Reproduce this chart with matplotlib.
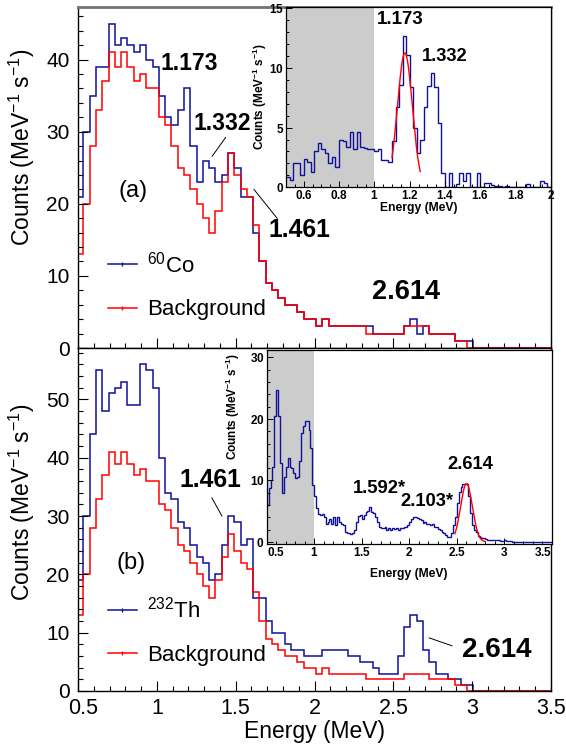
import numpy as np
import matplotlib
matplotlib.use("Agg")
import matplotlib.pyplot as plt
import matplotlib.transforms as mtransforms
from matplotlib.lines import Line2D
from matplotlib.ticker import MultipleLocator, FuncFormatter

plt.rcParams['font.family'] = ['Liberation Sans', 'DejaVu Sans']
plt.rcParams['mathtext.fontset'] = 'custom'
plt.rcParams['mathtext.rm'] = 'Liberation Sans'
plt.rcParams['mathtext.bf'] = 'Liberation Sans:bold'
plt.rcParams['mathtext.default'] = 'regular'

# --- main spectra, ~0.04 MeV bins ---
bin_start = 0.494
bin_width = 0.0399
background = [13, 20, 28, 33, 37, 41, 39, 41, 39, 37, 38, 36, 36, 32, 31, 28, 25, 24, 22, 20,
              18, 16, 19, 23, 27, 24, 22, 21, 17, 12, 9, 8, 7, 6, 6, 5, 4, 4, 3, 4,
              3, 3, 3, 3, 3, 3, 2, 2, 2, 2, 2, 2, 3, 3, 3, 3, 2, 2, 2, 2,
              1, 1, 0, 0, 0, 0, 0, 0, 0, 0, 0, 0, 0, 0, 0, 0]
co60 = [21, 30, 35, 39, 39, 45, 42, 43, 42, 41, 42, 40, 39, 35, 32, 31, 33, 36, 28, 23,
        26, 25, 23, 24, 27, 25, 21, 21, 16, 12, 9, 8, 7, 6, 6, 5, 4, 4, 3, 4,
        3, 3, 3, 3, 3, 3, 3, 2, 2, 2, 2, 2, 3, 4, 2, 3, 2, 2, 2, 2,
        1, 1, 1, 0, 0, 0, 0, 0, 0, 0, 0, 0, 0, 0, 0, 0]
th232 = [19, 30, 44, 55, 48, 51, 52, 53, 49, 49, 56, 55, 52, 40, 34, 33, 29, 28, 25, 23,
         22, 19, 20, 25, 30, 29, 25, 26, 16, 16, 12, 10, 10, 8, 7, 7, 6, 6, 6, 7,
         7, 7, 7, 6, 6, 5, 5, 4, 3, 3, 3, 6, 11, 13, 12, 7, 5, 3, 3, 2,
         2, 1, 1, 0, 0, 0, 0, 0, 0, 0, 0, 0, 0, 0, 0, 0]

# --- inset spectra (background subtracted), 0.02 MeV bins from 0.5 MeV ---
fine_start = 0.5
fine_width = 0.02
co60_net = [0.9, 0.6, 2.0, 2.0, 1.0, 2.4, 2.1, 1.3, 3.0, 3.7, 3.2, 2.9, 2.0, 2.5, 1.7,
            4.0, 3.9, 3.4, 4.6, 3.2, 4.6, 3.4, 3.3, 3.2, 3.2,
            3.0, 3.2, 2.3, 2.3, 2.1, 3.9, 6.7, 8.6, 12.7, 11.1, 8.4, 5.0, 2.9, 4.0, 6.7,
            8.5, 9.6, 8.4, 5.4, 1.2, 0.0, 1.2, 0.0,
            0.3, 1.2, 0.5, 1.2, 0.0, 0.0, 1.2, 0.0, 0.4, 0.4, 0.2, 0.1, 0.1, 0.0, 0.1,
            0.0, 0.0, 0.0, 0.0, 0.0, 0.3, 0.0, 0.0, 0.0, 0.5, 0.4, 0.0]
th232_net = [6.0, 8.7, 10.1, 12.2, 20.4, 24.7, 20.4, 12.8, 8.0, 10.6, 12.2, 13.6, 12.2,
             12.0, 11.2, 10.4, 10.6, 13.1, 17.7, 18.8, 19.6, 19.6, 18.2, 15.2, 9.3,
             7.4, 5.5, 4.6, 4.4, 4.5, 4.0, 3.0, 3.2, 3.8, 3.0, 4.0, 2.8, 4.0, 3.3, 3.0,
             2.8, 1.6, 1.4, 1.4, 1.3, 1.4, 2.0, 3.3, 4.3, 4.4,
             3.8, 4.4, 4.9, 5.0, 5.7, 4.9, 4.7, 4.1, 3.3, 2.5, 2.2, 2.2, 2.5, 2.0, 2.3,
             2.0, 2.3, 2.1, 2.3, 2.0, 2.3, 2.2, 2.5, 2.5, 2.8,
             3.3, 3.8, 4.0, 4.0, 3.9, 3.8, 3.6, 3.1, 3.3, 3.0, 3.0, 2.8, 2.9, 2.5, 2.5,
             2.1, 2.0, 1.7, 1.5, 1.1, 0.8, 0.8, 1.4, 2.8, 4.1,
             6.3, 8.2, 9.0, 9.5, 9.5, 9.4, 7.4, 4.7, 2.8, 2.0, 1.7, 0.9, 0.8, 0.6, 0.6,
             0.5, 0.4, 0.4, 0.3, 0.3, 0.3, 0.3, 0.25, 0.2, 0.2,
             0.3, 0.2, 0.1, 0.1] + [0.05] * 21

# gaussian fit results drawn over the peaks
co_fit_amp, co_fit_mu, co_fit_sigma, co_fit_range = 11.25, 1.173, 0.042, (1.10, 1.26)
th_fit_amp, th_fit_mu, th_fit_sigma, th_fit_range = 9.5, 2.603, 0.062, (2.48, 2.80)

blue = '#10109a'
red = '#ff0000'
grey_band = '#cccccc'


def edges(start, width, n):
    return start + width * np.arange(n + 1)


def gauss_curve(amp, mu, sigma, rng):
    x = np.linspace(rng[0], rng[1], 200)
    return x, amp * np.exp(-(x - mu) ** 2 / (2 * sigma ** 2))


fmt = FuncFormatter(lambda v, p: '%g' % v)
fmt_bold = FuncFormatter(lambda v, p: r'$\mathbf{%g}$' % v)

W, H = 566, 749
fig = plt.figure(figsize=(W / 100, H / 100), dpi=100)


def px_axes(x0, y0, x1, y1):
    return fig.add_axes([x0 / W, 1 - y1 / H, (x1 - x0) / W, (y1 - y0) / H])


ax1 = px_axes(78, 7, 551, 348)
ax2 = px_axes(78, 348, 551, 691)

main_edges = edges(bin_start, bin_width, len(background))
for ax, src, src_label, ymax in [(ax1, co60, '$^{60}$Co', 47.3), (ax2, th232, '$^{232}$Th', 58.8)]:
    ax.stairs(src, main_edges, baseline=None, color=blue, lw=1.1)
    ax.stairs(background, main_edges, baseline=None, color=red, lw=1.1)
    ax.set_xlim(0.5, 3.5)
    ax.set_ylim(0, ymax)
    ax.xaxis.set_major_locator(MultipleLocator(0.5))
    ax.xaxis.set_minor_locator(MultipleLocator(0.1))
    ax.yaxis.set_major_locator(MultipleLocator(10))
    ax.yaxis.set_minor_locator(MultipleLocator(2))
    ax.xaxis.set_major_formatter(fmt)
    ax.tick_params(which='both', direction='in', top=False, right=False)
    ax.tick_params(which='major', length=7, width=0.8)
    ax.tick_params(which='minor', length=3.5, width=0.8)
    ax.tick_params(axis='y', labelsize=15, pad=6)
    ax.tick_params(axis='x', labelsize=15.5, pad=5)
    for s in ax.spines.values():
        s.set_linewidth(1.0)
    ax.set_ylabel('Counts (MeV$^{-1}$ s$^{-1}$)', fontsize=16.5, ha='center', va='center')
    handles = [Line2D([], [], color=blue, lw=1.1, marker='|', markersize=3),
               Line2D([], [], color=red, lw=1.1, marker='|', markersize=3)]
    ax.legend(handles, [src_label, 'Background'], loc='center left', frameon=False,
              fontsize=16, handlelength=1.3, handletextpad=0.45, labelspacing=1.0,
              borderpad=0, borderaxespad=0,
              bbox_to_anchor=(0.063, 0.182 if ax is ax1 else 0.175))

ax1.spines['top'].set_color('0.45')
ax1.spines['top'].set_linewidth(2.0)
ax1.tick_params(axis='x', labelbottom=False)
ax1.yaxis.set_label_coords(-0.118, 0.59)
ax2.yaxis.set_label_coords(-0.118, 0.55)
ax2.set_xlabel('Energy (MeV)', fontsize=16.5, va='center')
ax2.xaxis.set_label_coords(0.5, -0.117)

# peak annotations, top panel
bold = dict(fontweight='bold', ha='center', va='center')
ax1.text(1.205, 39.4, '1.173', fontsize=16.5, **bold)
ax1.text(1.415, 31.1, '1.332', fontsize=16.5, **bold)
ax1.text(1.905, 16.4, '1.461', fontsize=17.8, **bold)
ax1.text(2.58, 7.8, '2.614', fontsize=19.5, **bold)
ax1.text(0.848, 21.8, '(a)', fontsize=17, ha='center', va='center')
ax1.plot([1.436, 1.351], [29.2, 26.6], color='k', lw=0.7)
ax1.plot([1.616, 1.763], [22.0, 18.0], color='k', lw=0.7)

# bottom panel
ax2.text(1.338, 36.2, '1.461', fontsize=17.8, **bold)
ax2.text(3.159, 7.06, '2.614', fontsize=20, **bold)
ax2.text(0.836, 22.0, '(b)', fontsize=17, ha='center', va='center')
ax2.plot([1.349, 1.413], [33.1, 30.0], color='k', lw=0.7)
ax2.plot([2.728, 2.872], [9.1, 7.75], color='k', lw=0.7)

# --- insets ---
ins1 = px_axes(286, 7, 551, 187.3)
ins2 = px_axes(266.7, 350, 551.7, 544)

for ins, net, xmax, ylims in [(ins1, co60_net, 2.0, (0, 15.1)), (ins2, th232_net, 3.5, (-0.33, 31.2))]:
    ins.axvspan(0.5, 1.0, color=grey_band, lw=0, zorder=0)
    ins.stairs(net, edges(fine_start, fine_width, len(net)), baseline=None, color=blue, lw=1.0)
    ins.set_xlim(0.5, xmax)
    ins.set_ylim(*ylims)
    ins.xaxis.set_major_formatter(fmt_bold)
    ins.yaxis.set_major_formatter(fmt_bold)
    ins.tick_params(which='both', direction='in', top=False, right=False)
    ins.tick_params(which='major', length=4, width=0.7)
    ins.tick_params(which='minor', length=2, width=0.7)
    ins.tick_params(labelsize=8.5, pad=1.5)
    ins.set_xlabel('Energy (MeV)', fontsize=8.7, fontweight='bold', va='center')
    ins.set_ylabel(r'Counts (MeV$^{\mathbf{-1}}$ s$^{\mathbf{-1}}$)', fontsize=8.5,
                   fontweight='bold', ha='center', va='center')
    for s in ins.spines.values():
        s.set_linewidth(0.9)

ins1.xaxis.set_major_locator(MultipleLocator(0.2))
ins1.xaxis.set_minor_locator(MultipleLocator(0.05))
ins1.yaxis.set_major_locator(MultipleLocator(5))
ins1.yaxis.set_minor_locator(MultipleLocator(1))
ins2.xaxis.set_major_locator(MultipleLocator(0.5))
ins2.xaxis.set_minor_locator(MultipleLocator(0.1))
ins2.yaxis.set_major_locator(MultipleLocator(10))
ins2.yaxis.set_minor_locator(MultipleLocator(2))

ins1.xaxis.set_label_coords(0.5, -21 / 180.3)
ins1.yaxis.set_label_coords(-26 / 265, 0.5)
ins2.xaxis.set_label_coords(0.5, -30 / 194)
ins2.yaxis.set_label_coords(-34 / 285, 0.71)

x, y = gauss_curve(co_fit_amp, co_fit_mu, co_fit_sigma, co_fit_range)
ins1.plot(x, y, color=red, lw=1.0)
x, y = gauss_curve(th_fit_amp, th_fit_mu, th_fit_sigma, th_fit_range)
ins2.plot(x, y, color=red, lw=1.0)

ins1.text(1.147, 14.06, '1.173', fontsize=13.5, **bold)
ins1.text(1.397, 10.97, '1.332', fontsize=13.2, **bold)
ins2.text(2.64, 12.65, '2.614', fontsize=13.2, **bold)
ins2.text(1.682, 8.73, '1.592*', fontsize=13.2, **bold)
ins2.text(2.189, 6.55, '2.103*', fontsize=13.2, **bold)

# ROOT keeps the end labels of the inset axis inside the frame
fig.canvas.draw()
for lab in ins2.get_xticklabels():
    if lab.get_text() == r'$\mathbf{0.5}$':
        lab.set_ha('left')
    if lab.get_text() == r'$\mathbf{3.5}$':
        lab.set_ha('right')
nudge = mtransforms.ScaledTranslation(5 / 100, 0, fig.dpi_scale_trans)
for lab in ax2.get_xticklabels():
    if lab.get_text() == '0.5':
        lab.set_transform(lab.get_transform() + nudge)

fig.savefig('out.png', dpi=100)
